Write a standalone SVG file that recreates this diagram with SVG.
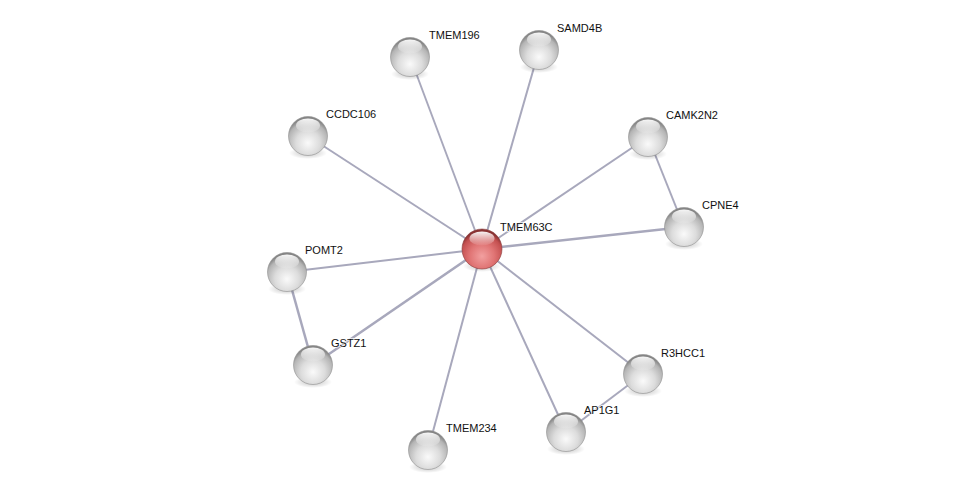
<svg xmlns="http://www.w3.org/2000/svg" width="975" height="496" viewBox="0 0 975 496">
<defs>
<radialGradient id="gw" cx="0.5" cy="0.68" r="0.62">
<stop offset="0" stop-color="#fafafa"/>
<stop offset="0.5" stop-color="#dcdcdc"/>
<stop offset="0.85" stop-color="#b4b4b4"/>
<stop offset="1" stop-color="#858585"/>
</radialGradient>
<radialGradient id="gr" cx="0.5" cy="0.68" r="0.62">
<stop offset="0" stop-color="#f2a0a0"/>
<stop offset="0.5" stop-color="#e07474"/>
<stop offset="0.85" stop-color="#c45050"/>
<stop offset="1" stop-color="#8a3232"/>
</radialGradient>
<linearGradient id="hl" x1="0" y1="0" x2="0" y2="1">
<stop offset="0" stop-color="#ffffff" stop-opacity="0.95"/>
<stop offset="1" stop-color="#ffffff" stop-opacity="0.05"/>
</linearGradient>
<radialGradient id="sh" cx="0.5" cy="0.5" r="0.5">
<stop offset="0" stop-color="#000" stop-opacity="0.25"/>
<stop offset="1" stop-color="#000" stop-opacity="0"/>
</radialGradient>
<g id="sphere">
<ellipse cx="0" cy="17" rx="19" ry="6" fill="url(#sh)"/>
<circle r="19.5" fill="url(#gw)" stroke="#8f8f8f" stroke-width="0.6"/>
<ellipse cx="0" cy="-10.5" rx="12" ry="7" fill="url(#hl)"/>
</g>
</defs>
<style>
.e{stroke:#a8a8bc;stroke-width:2;fill:none}
.t{font-family:"Liberation Sans",Arial,sans-serif;font-size:11px;fill:#111;paint-order:stroke;stroke:#fff;stroke-width:2px;stroke-opacity:0.7}
</style>
<rect width="975" height="496" fill="#fff"/>
<g id="connectors">
<line class="e" x1="482" y1="249" x2="410" y2="57"/>
<line class="e" x1="482" y1="249" x2="539" y2="50"/>
<line class="e" x1="482" y1="249" x2="308" y2="136"/>
<line class="e" x1="482" y1="249" x2="648" y2="137"/>
<line class="e" x1="482" y1="249" x2="684" y2="227" style="stroke-width:2.5"/>
<line class="e" x1="482" y1="249" x2="287" y2="272"/>
<line class="e" x1="482" y1="249" x2="313" y2="365" style="stroke-width:2.5"/>
<line class="e" x1="482" y1="249" x2="643" y2="374"/>
<line class="e" x1="482" y1="249" x2="566" y2="432"/>
<line class="e" x1="482" y1="249" x2="428" y2="450"/>
<line class="e" x1="648" y1="137" x2="684" y2="227"/>
<line class="e" x1="287" y1="272" x2="313" y2="365" style="stroke-width:2.5"/>
<line class="e" x1="643" y1="374" x2="566" y2="432"/>
</g>
<g id="TMEM196"><use href="#sphere" x="410" y="57"/><text class="t" x="429" y="39">TMEM196</text></g>
<g id="SAMD4B"><use href="#sphere" x="539" y="50"/><text class="t" x="557" y="32">SAMD4B</text></g>
<g id="CCDC106"><use href="#sphere" x="308" y="136"/><text class="t" x="326" y="118">CCDC106</text></g>
<g id="CAMK2N2"><use href="#sphere" x="648" y="137"/><text class="t" x="666" y="119">CAMK2N2</text></g>
<g id="CPNE4"><use href="#sphere" x="684" y="227"/><text class="t" x="702" y="209">CPNE4</text></g>
<g id="POMT2"><use href="#sphere" x="287" y="272"/><text class="t" x="305" y="254">POMT2</text></g>
<g id="GSTZ1"><use href="#sphere" x="313" y="365"/><text class="t" x="331" y="347">GSTZ1</text></g>
<g id="R3HCC1"><use href="#sphere" x="643" y="374"/><text class="t" x="661" y="357">R3HCC1</text></g>
<g id="AP1G1"><use href="#sphere" x="566" y="432"/><text class="t" x="584" y="414">AP1G1</text></g>
<g id="TMEM234"><use href="#sphere" x="428" y="450"/><text class="t" x="446" y="432">TMEM234</text></g>
<g id="TMEM63C">
<ellipse cx="482" cy="266" rx="19" ry="6" fill="url(#sh)"/>
<circle cx="482" cy="249" r="20" fill="url(#gr)" stroke="#8a4040" stroke-width="0.6"/>
<ellipse cx="482" cy="238.5" rx="12.5" ry="7" fill="url(#hl)"/>
<text class="t" x="500" y="231">TMEM63C</text>
</g>
</svg>
